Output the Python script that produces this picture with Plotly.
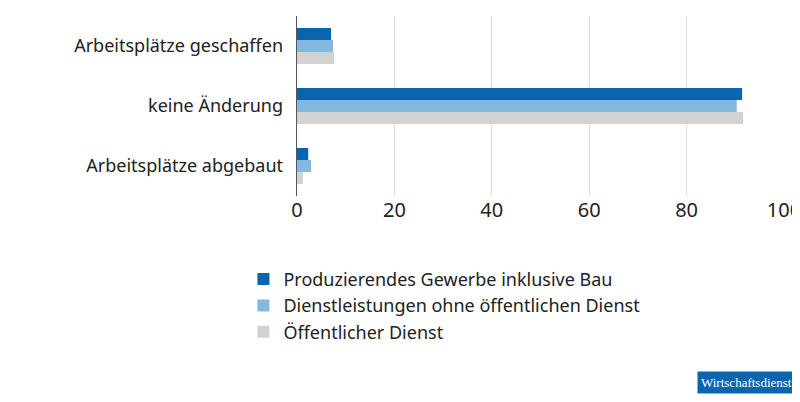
import plotly.graph_objects as go

categories = ["Arbeitsplätze abgebaut", "keine Änderung", "Arbeitsplätze geschaffen"]
series_names = [
    "Produzierendes Gewerbe inklusive Bau",
    "Dienstleistungen ohne öffentlichen Dienst",
    "Öffentlicher Dienst",
]
produzierend = [2.3, 91.4, 7.0]
dienstleistung = [2.9, 90.3, 7.4]
oeffentlich = [1.2, 91.6, 7.6]
colors = ["#0a64ae", "#85b8df", "#d2d2d2"]

fig = go.Figure()
# reverse trace order so the dark bar sits on top within each group
for name, vals, col in reversed(list(zip(series_names, [produzierend, dienstleistung, oeffentlich], colors))):
    fig.add_trace(go.Bar(x=vals, y=categories, name=name, orientation="h",
                         marker=dict(color=col, line=dict(width=0))))

fig.update_layout(
    width=800, height=402,
    barmode="group", bargap=0.4, bargroupgap=0,
    plot_bgcolor="white", paper_bgcolor="white",
    font=dict(family="Noto Sans", size=18, color="#222"),
    margin=dict(l=289, r=24, t=8, b=214),
    xaxis=dict(range=[0, 100], dtick=20, showgrid=True, gridcolor="#dddddd",
               zeroline=False, ticks="", tickfont=dict(size=20), automargin=False),
    yaxis=dict(showline=True, linecolor="#555", linewidth=1, ticks="",
               ticksuffix="  ", tickfont=dict(size=18), automargin=False),
    legend=dict(orientation="v", x=-0.11, xanchor="left", y=-0.36, yanchor="top",
                traceorder="reversed", font=dict(size=18), itemsizing="constant"),
    showlegend=True,
)
fig.add_annotation(text="Wirtschaftsdienst", xref="paper", yref="paper",
                   x=1.025, y=-1.1, xanchor="right", yanchor="bottom", showarrow=False,
                   font=dict(family="Liberation Serif", size=13, color="white"),
                   bgcolor="#0a64ae", borderpad=3)

fig.write_html("out.html")
